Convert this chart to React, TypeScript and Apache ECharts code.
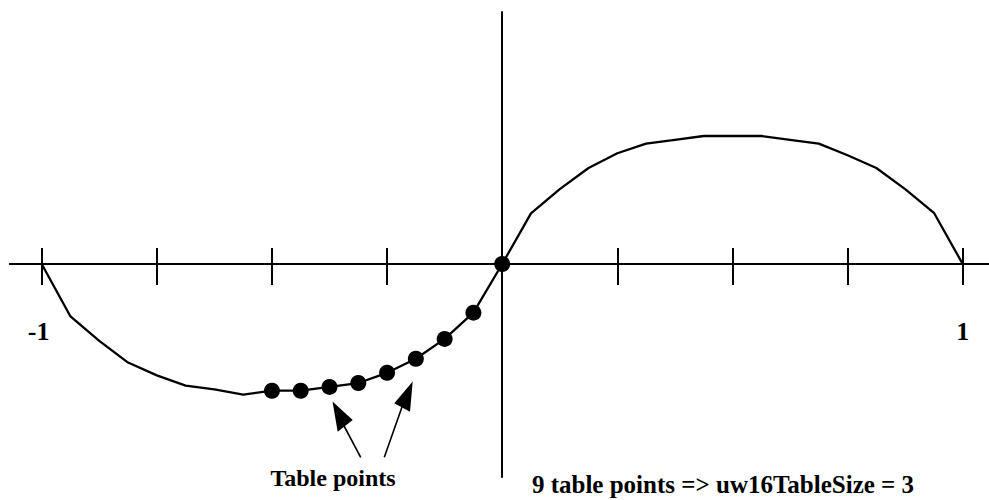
import React, { useEffect, useRef } from "react";
import * as echarts from "echarts";

// x positions: k/16 for k = -16..16
const xSteps: number[] = [
  -16, -15, -14, -13, -12, -11, -10, -9, -8, -7, -6, -5, -4, -3, -2, -1, 0,
  1, 2, 3, 4, 5, 6, 7, 8, 9, 10, 11, 12, 13, 14, 15, 16,
];
const curveValues: number[] = [
  0, -0.41, -0.6, -0.77, -0.87, -0.95, -0.98, -1.02, -0.99, -0.99, -0.96, -0.93, -0.85, -0.74, -0.585, -0.38, 0,
  0.395, 0.585, 0.75, 0.865, 0.94, 0.97, 1.0, 1.0, 1.0, 0.97, 0.94, 0.85, 0.75, 0.585, 0.4, 0,
];
// table points: k = -8..0
const tableSteps: number[] = [-8, -7, -6, -5, -4, -3, -2, -1, 0];
const tickValues: number[] = [-1, -0.75, -0.5, -0.25, 0, 0.25, 0.5, 0.75, 1];
const labelValues: number[] = [-1, 1];
const labelTexts: string[] = ["-1", "1"];
const annotationLeft = "Table points";
const annotationRight = "9 table points => uw16TableSize = 3";

const FONT = "'Liberation Serif', 'Times New Roman', serif";

export default function App() {
  const ref = useRef<HTMLDivElement>(null);
  useEffect(() => {
    if (!ref.current) return;
    const chart = echarts.init(ref.current, null, { renderer: "svg" });
    const curve = xSteps.map((k, i) => [k / 16, curveValues[i]]);
    const dots = tableSteps.map((k) => [k / 16, curveValues[xSteps.indexOf(k)]]);
    const xMin = -1.06884;
    const xMax = 1.05711;
    const yTop = 1.96875;
    const yBottom = -1.6640625;
    const black = { color: "#000", width: 2 };
    chart.setOption({
      animation: false,
      backgroundColor: "#fff",
      grid: [
        { left: 10, right: 0, top: 12, bottom: 236, containLabel: false, outerBoundsMode: "none" },
        { left: 10, right: 0, top: 264, bottom: 23, containLabel: false, outerBoundsMode: "none" },
      ],
      xAxis: [
        {
          type: "value",
          gridIndex: 0,
          min: xMin,
          max: xMax,
          position: "bottom",
          splitLine: { show: false },
          axisLine: { show: true, onZero: false, lineStyle: black },
          axisTick: { show: true, inside: true, length: 16, customValues: tickValues, lineStyle: black },
          axisLabel: { show: false },
        },
        {
          type: "value",
          gridIndex: 1,
          min: xMin,
          max: xMax,
          position: "top",
          splitLine: { show: false },
          axisLine: { show: true, onZero: false, lineStyle: black },
          axisTick: { show: true, inside: true, length: 21, customValues: tickValues, lineStyle: black },
          axisLabel: { show: false },
        },
      ],
      yAxis: [
        {
          type: "value",
          gridIndex: 0,
          min: 0,
          max: yTop,
          splitLine: { show: false },
          axisTick: { show: false },
          axisLabel: { show: false },
          axisLine: { show: true, onZero: true, lineStyle: black },
        },
        {
          type: "value",
          gridIndex: 1,
          min: yBottom,
          max: 0,
          splitLine: { show: false },
          axisTick: { show: false },
          axisLabel: { show: false },
          axisLine: { show: true, onZero: true, lineStyle: black },
        },
      ],
      series: [
        {
          type: "line",
          data: curve,
          xAxisIndex: 0,
          yAxisIndex: 0,
          clip: false,
          symbol: "none",
          lineStyle: { color: "#000", width: 2.3 },
          silent: true,
        },
        {
          type: "scatter",
          data: dots,
          xAxisIndex: 0,
          yAxisIndex: 0,
          clip: false,
          symbol: "circle",
          symbolSize: 16,
          itemStyle: { color: "#000", opacity: 1 },
          silent: true,
        },
      ],
    });

    const labelGraphics = labelValues.map((v, i) => {
      const p = chart.convertToPixel({ xAxisIndex: 0, yAxisIndex: 0 }, [v, 0]) as number[];
      return {
        type: "text",
        x: p[0] + (v < 0 ? -3 : 0),
        y: p[1] + 80,
        style: {
          text: labelTexts[i],
          fontFamily: FONT,
          fontWeight: "bold",
          fontSize: 26,
          fill: "#000",
          textAlign: "center",
          textVerticalAlign: "bottom",
        },
      };
    });

    chart.setOption({
      graphic: [
        ...labelGraphics,
        {
          type: "line",
          shape: { x1: 360.7, y1: 457.3, x2: 343, y2: 424 },
          style: { stroke: "#000", lineWidth: 1.6 },
        },
        {
          type: "polygon",
          shape: { points: [[332.5, 401.5], [337.7, 431.7], [352.7, 420]] },
          style: { fill: "#000" },
        },
        {
          type: "line",
          shape: { x1: 384.3, y1: 457.3, x2: 402, y2: 407 },
          style: { stroke: "#000", lineWidth: 1.6 },
        },
        {
          type: "polygon",
          shape: { points: [[412.7, 381.5], [394.3, 403.3], [410, 411.7]] },
          style: { fill: "#000" },
        },
        {
          type: "text",
          x: 333,
          y: 490,
          style: {
            text: annotationLeft,
            fontFamily: FONT,
            fontWeight: "bold",
            fontSize: 24,
            fill: "#000",
            textAlign: "center",
            textVerticalAlign: "bottom",
          },
        },
        {
          type: "text",
          x: 723,
          y: 497.3,
          style: {
            text: annotationRight,
            fontFamily: FONT,
            fontWeight: "bold",
            fontSize: 25,
            fill: "#000",
            textAlign: "center",
            textVerticalAlign: "bottom",
          },
        },
      ],
    });
    return () => chart.dispose();
  }, []);
  return (
    <div
      ref={ref}
      style={{ position: "fixed", left: 0, top: 0, width: 989, height: 500 }}
    />
  );
}
